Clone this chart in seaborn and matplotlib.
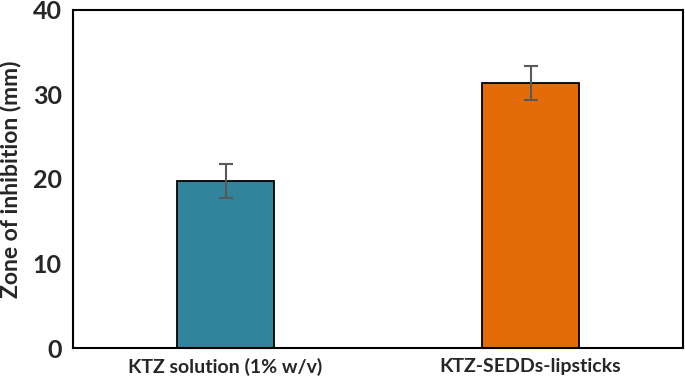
import numpy as np
import pandas as pd
import matplotlib
matplotlib.use("Agg")
import matplotlib.pyplot as plt
import seaborn as sns

# 데이터
categories = ["KTZ solution (1% w/v)", "KTZ-SEDDs-lipsticks"]
zone_mm = [19.8, 31.35]
zone_sd = [2.0, 2.0]
bar_colors = ["#31849B", "#E36C09"]

sns.set_style("white")
plt.rcParams['font.family'] = ['Lato', 'DejaVu Sans']
plt.rcParams['font.weight'] = 'bold'

df = pd.DataFrame({"group": categories, "zone": zone_mm})

fig = plt.figure(figsize=(6.85, 3.81), dpi=100)
ax = fig.add_axes([73 / 685, 1 - 348 / 381, 610 / 685, 338 / 381])

sns.barplot(data=df, x="group", y="zone", hue="group", palette=bar_colors,
            saturation=1, width=0.315, edgecolor="black", linewidth=1.3,
            legend=False, ax=ax)
ax.errorbar(np.arange(len(categories)), zone_mm, yerr=zone_sd, fmt="none",
            ecolor="#595959", elinewidth=1.5, capsize=5, capthick=1.5)

ax.set_ylim(0, 40)
ax.set_xlim(-0.5, 1.5)
ax.set_yticks([0, 10, 20, 30, 40])
ax.set_xlabel("")
ax.set_ylabel("Zone of inhibition (mm)", fontsize=16.5, fontweight="bold", labelpad=8)
ax.tick_params(axis="y", labelsize=18, length=0, pad=8)
ax.tick_params(axis="x", labelsize=14, length=0, pad=7)
for lbl in ax.get_xticklabels() + ax.get_yticklabels():
    lbl.set_fontweight("bold")
for s in ax.spines.values():
    s.set_visible(True)
    s.set_color("black")
    s.set_linewidth(1.5)

fig.savefig("out.png", dpi=100)
